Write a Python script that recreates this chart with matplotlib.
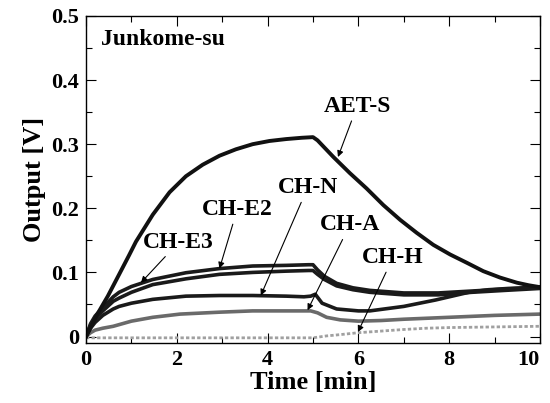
import matplotlib
matplotlib.use("Agg")
import matplotlib.pyplot as plt
from matplotlib.ticker import MultipleLocator

plt.rcParams['font.family'] = ['Liberation Serif', 'DejaVu Serif']
plt.rcParams['font.weight'] = 'bold'

# ---- data ----
t_aet = [0, 0.25, 0.48, 0.73, 0.95, 1.1, 1.47, 1.84, 2.2, 2.57, 2.94, 3.3, 3.67, 4.04, 4.41, 4.75,
         5.0, 5.1, 5.45, 5.81, 6.18, 6.55, 6.92, 7.28, 7.65, 8.02, 8.39, 8.75, 9.12, 9.49, 9.75, 10.0]
v_aet = [0, 0.035, 0.063, 0.097, 0.127, 0.148, 0.19, 0.225, 0.250, 0.268, 0.282, 0.292, 0.300, 0.305,
         0.308, 0.310, 0.311, 0.306, 0.280, 0.255, 0.231, 0.205, 0.182, 0.162, 0.143, 0.128, 0.115,
         0.102, 0.092, 0.084, 0.080, 0.077]

t_e2 = [0, 0.1, 0.2, 0.37, 0.6, 0.73, 1.0, 1.47, 2.2, 2.94, 3.67, 4.41, 4.9, 5.0, 5.1, 5.25, 5.52,
        5.88, 6.25, 7.0, 7.76, 8.5, 9.23, 10.0]
v_e2 = [0, 0.02, 0.032, 0.045, 0.062, 0.069, 0.078, 0.089, 0.0995, 0.106, 0.110, 0.111, 0.112, 0.112,
        0.104, 0.094, 0.083, 0.076, 0.072, 0.068, 0.068, 0.071, 0.074, 0.077]

t_e3 = [0, 0.1, 0.2, 0.37, 0.6, 0.73, 1.0, 1.47, 2.2, 2.94, 3.67, 4.41, 4.9, 5.0, 5.1, 5.25, 5.52,
        5.88, 6.25, 7.0, 7.76, 8.5, 9.23, 10.0]
v_e3 = [0, 0.018, 0.028, 0.040, 0.055, 0.060, 0.069, 0.081, 0.090, 0.097, 0.100, 0.102, 0.103, 0.103,
        0.097, 0.089, 0.079, 0.073, 0.069, 0.065, 0.065, 0.069, 0.072, 0.075]

t_n = [0, 0.1, 0.2, 0.37, 0.6, 0.73, 1.0, 1.47, 2.2, 2.94, 3.67, 4.41, 4.8, 4.95, 5.05, 5.2, 5.52,
       6.0, 6.25, 7.0, 7.7, 8.43, 8.86, 9.3, 10.0]
v_n = [0, 0.013, 0.022, 0.033, 0.043, 0.047, 0.052, 0.058, 0.063, 0.064, 0.064, 0.063, 0.062, 0.063,
       0.066, 0.052, 0.043, 0.040, 0.040, 0.047, 0.057, 0.069, 0.073, 0.075, 0.077]

t_a = [0, 0.1, 0.2, 0.37, 0.6, 1.0, 1.47, 2.07, 2.94, 3.67, 4.41, 4.95, 5.1, 5.3, 5.6, 6.0, 6.5,
       7.0, 8.0, 9.0, 10.0]
v_a = [0, 0.006, 0.01, 0.013, 0.016, 0.024, 0.030, 0.035, 0.038, 0.040, 0.040, 0.040, 0.037, 0.030,
       0.026, 0.024, 0.025, 0.027, 0.030, 0.033, 0.035]

t_h = [0, 0.5, 1, 2, 3, 4, 5, 5.3, 5.6, 6.0, 6.4, 7.0, 7.5, 8, 9, 10]
v_h = [-0.002, -0.002, -0.002, -0.002, -0.002, -0.002, -0.002, 0.001, 0.003, 0.006, 0.008, 0.011,
       0.013, 0.014, 0.015, 0.016]

# annotation: label, arrow tip (t, v), text centre (t, v)
labels = ["AET-S", "CH-E2", "CH-E3", "CH-N", "CH-A", "CH-H"]
tips = [(5.55, 0.280), (2.94, 0.106), (1.21, 0.084), (3.85, 0.064), (4.88, 0.041), (5.99, 0.007)]
text_pos = [(5.97, 0.359), (3.33, 0.198), (2.04, 0.147), (4.88, 0.232), (5.81, 0.174), (6.76, 0.123)]

xticks = [0, 2, 4, 6, 8, 10]
xtick_labels = ["0", "2", "4", "6", "8", "10"]
yticks = [0, 0.1, 0.2, 0.3, 0.4, 0.5]
ytick_labels = ["0", "0.1", "0.2", "0.3", "0.4", "0.5"]

fig = plt.figure(figsize=(5.5, 4.03), dpi=100)
ax = fig.add_axes([0.1564, 0.149, 0.8254, 0.8114])

ax.plot(t_h, v_h, color='#a0a0a0', lw=2.0, ls=(0, (1.2, 0.8)))
ax.plot(t_a, v_a, color='#6a6a6a', lw=2.6)
ax.plot(t_n, v_n, color='#1a1a1a', lw=2.6)
ax.plot(t_e3, v_e3, color='#1a1a1a', lw=2.6)
ax.plot(t_e2, v_e2, color='#1a1a1a', lw=2.6)
ax.plot(t_aet, v_aet, color='#111111', lw=2.8)

for lab, tip, tp in zip(labels, tips, text_pos):
    ax.annotate(lab, xy=tip, xytext=tp, ha='center', va='center', fontsize=17,
                fontweight='bold',
                arrowprops=dict(arrowstyle='-|>', color='black', lw=0.8,
                                mutation_scale=9, shrinkA=1, shrinkB=0))

ax.text(0.033, 0.927, "Junkome-su", transform=ax.transAxes, fontsize=17,
        fontweight='bold', ha='left', va='center')

ax.set_xlim(0, 10)
ax.set_ylim(-0.01, 0.5)
ax.xaxis.set_minor_locator(MultipleLocator(1))
ax.yaxis.set_minor_locator(MultipleLocator(0.05))
ax.set_xticks(xticks)
ax.set_xticklabels(xtick_labels)
ax.set_yticks(yticks)
ax.set_yticklabels(ytick_labels)
ax.tick_params(which='both', direction='in', top=True, right=True, labelsize=16, pad=5)
ax.tick_params(which='major', length=7, width=0.8)
ax.tick_params(which='minor', length=4, width=0.8)
for lbl in ax.get_xticklabels() + ax.get_yticklabels():
    lbl.set_fontweight('bold')
ax.get_xticklabels()[-1].set_horizontalalignment('right')
ax.get_xticklabels()[-1].set_x(10.0)
for s in ax.spines.values():
    s.set_linewidth(1.0)

ax.set_xlabel("Time [min]", fontsize=19, fontweight='bold', labelpad=1)
ax.set_ylabel("Output [V]", fontsize=19, fontweight='bold', labelpad=4)

fig.savefig("out.png", dpi=100)
